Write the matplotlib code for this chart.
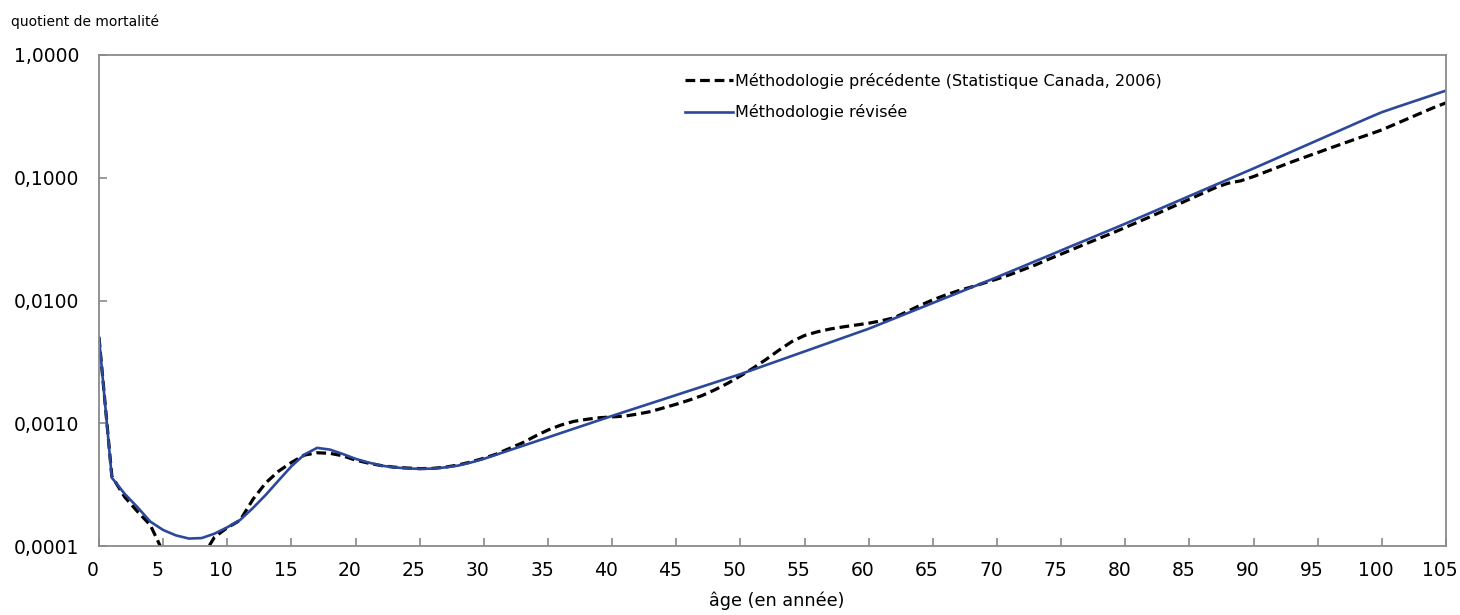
import matplotlib
matplotlib.use("Agg")
import matplotlib.pyplot as plt
from matplotlib.ticker import FixedLocator, NullLocator
from matplotlib.transforms import ScaledTranslation

plt.rcParams['font.family'] = ['DejaVu Sans']
plt.rcParams['lines.scale_dashes'] = False

ages = list(range(106))

# quotient de mortalité, méthodologie précédente (Statistique Canada, 2006)
q_prev = [
    0.00501, 0.000370, 0.000251, 0.000191, 0.000148, 0.0000891, 0.0000501, 0.0000500, 0.0000794, 0.000118,
    0.000141, 0.000162, 0.000240, 0.000327, 0.000407, 0.000479, 0.000550, 0.000575, 0.000569, 0.000543,
    0.000501, 0.000473, 0.000452, 0.000439, 0.000432, 0.000427, 0.000429, 0.000439, 0.000457, 0.000484,
    0.000519, 0.000562, 0.000624, 0.000692, 0.000785, 0.000881, 0.000966, 0.001035, 0.001076, 0.001109,
    0.001127, 0.001143, 0.001189, 0.001245, 0.001334, 0.001429, 0.001542, 0.001679, 0.001871, 0.002113,
    0.002427, 0.002818, 0.003311, 0.003936, 0.004624, 0.005188, 0.005559, 0.005861, 0.006095, 0.006310,
    0.006531, 0.006839, 0.007244, 0.008128, 0.009120, 0.01012, 0.01109, 0.01202, 0.01288, 0.01390,
    0.01496, 0.01622, 0.01778, 0.01950, 0.02163, 0.02388, 0.02642, 0.02917, 0.03221, 0.03548,
    0.03936, 0.04365, 0.04842, 0.05395, 0.05998, 0.06683, 0.07447, 0.08279, 0.09016, 0.09441,
    0.1023, 0.1122, 0.1230, 0.1349, 0.1472, 0.1603, 0.1750, 0.1905, 0.2075, 0.2254,
    0.2455, 0.2723, 0.3020, 0.3350, 0.3715, 0.4074,
]

# quotient de mortalité, méthodologie révisée
q_rev = [
    0.00501, 0.000360, 0.000266, 0.000207, 0.000158, 0.000135, 0.000122, 0.000115, 0.000116, 0.000126,
    0.000142, 0.000163, 0.000204, 0.000261, 0.000342, 0.000446, 0.000555, 0.000630, 0.000610, 0.000562,
    0.000513, 0.000479, 0.000452, 0.000437, 0.000429, 0.000425, 0.000427, 0.000437, 0.000452, 0.000479,
    0.000513, 0.000556, 0.000603, 0.000653, 0.000708, 0.000767, 0.000832, 0.000902, 0.000977, 0.001059,
    0.001148, 0.001242, 0.001343, 0.001452, 0.001570, 0.001698, 0.001837, 0.001986, 0.002148, 0.002323,
    0.002512, 0.002735, 0.002979, 0.003243, 0.003532, 0.003846, 0.004188, 0.004560, 0.004966, 0.005408,
    0.005888, 0.006486, 0.007145, 0.007870, 0.008670, 0.009550, 0.01052, 0.01159, 0.01276, 0.01406,
    0.01549, 0.01714, 0.01892, 0.02094, 0.02312, 0.02559, 0.02831, 0.03126, 0.03459, 0.03819,
    0.04227, 0.04688, 0.05200, 0.05768, 0.06397, 0.07096, 0.07870, 0.08730, 0.09683, 0.1074,
    0.1191, 0.1324, 0.1472, 0.1637, 0.1820, 0.2023, 0.2249, 0.2500, 0.2780, 0.3090,
    0.3420, 0.3715, 0.4027, 0.4365, 0.4732, 0.5129,
]

y_ticks = [0.0001, 0.001, 0.01, 0.1, 1.0]
y_labels = ["0,0001", "0,0010", "0,0100", "0,1000", "1,0000"]
x_ticks = list(range(0, 106, 5))

grey = "#8a8a8a"
blue = "#2b489b"

fig = plt.figure(figsize=(14.6, 6.15), dpi=100)
ax = fig.add_axes([99 / 1460, 1 - 546 / 615, (1446 - 99) / 1460, (546 - 55) / 615])

ax.plot(ages, q_prev, color="black", lw=2.3, dashes=(7, 3.5),
        label="Méthodologie précédente (Statistique Canada, 2006)")
ax.plot(ages, q_rev, color=blue, lw=1.9, label="Méthodologie révisée")

ax.set_yscale("log")
ax.set_ylim(0.0001, 1.0)
ax.set_xlim(0, 105)
ax.yaxis.set_major_locator(FixedLocator(y_ticks))
ax.yaxis.set_minor_locator(NullLocator())
ax.set_yticklabels(y_labels)
ax.set_xticks(x_ticks)
ax.set_xticklabels([str(v) for v in x_ticks])

for s in ax.spines.values():
    s.set_color(grey)
    s.set_linewidth(1.3)
ax.tick_params(axis="both", direction="in", length=6, width=1.2, color=grey,
               labelsize=13.5, labelcolor="black")
ax.tick_params(axis="y", pad=14)
ax.tick_params(axis="x", pad=11)

shift = ScaledTranslation(-6 / 100, 0, fig.dpi_scale_trans)
for lab in ax.get_xticklabels():
    lab.set_transform(lab.get_transform() + shift)

fig.text(777 / 1460, 1 - 601 / 615, "âge (en année)", ha="center", va="center", fontsize=12.7)
fig.text(11 / 1460, 1 - 22 / 615, "quotient de mortalité", ha="left", va="center", fontsize=10)

ax.legend(loc="upper left", bbox_to_anchor=(685 / 1460, 1 - 73 / 615),
          bbox_transform=fig.transFigure, frameon=False, fontsize=11.5,
          handlelength=3.0, handletextpad=0.1, labelspacing=0.95, borderpad=0,
          borderaxespad=0)

fig.savefig("out.png", dpi=100)
